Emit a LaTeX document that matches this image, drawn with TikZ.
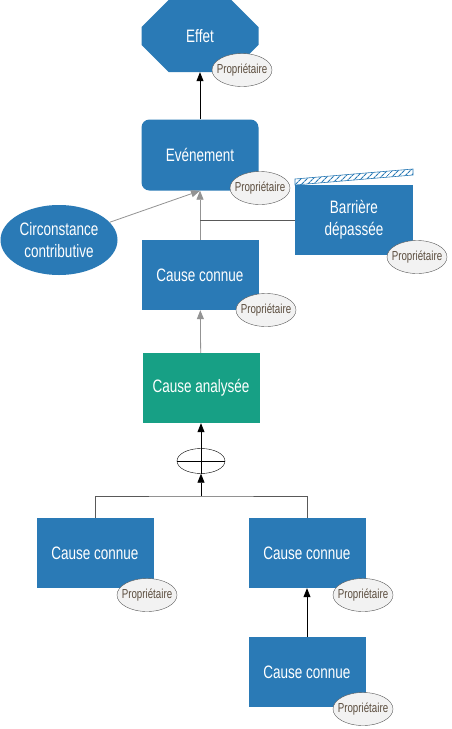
\documentclass[tikz,border=0pt]{standalone}
\usepackage{fontspec}
\setmainfont{Liberation Sans}[FakeStretch=0.75]
\usetikzlibrary{shapes.geometric,shapes.misc,arrows.meta,patterns.meta}
\definecolor{boxblue}{HTML}{2A7AB6}
\definecolor{boxteal}{HTML}{17A085}
\definecolor{propfill}{HTML}{F2F2F2}
\definecolor{proptext}{HTML}{5B4D3E}
\definecolor{linegray}{HTML}{595959}

\begin{document}
\begin{tikzpicture}[x=1pt,y=-1pt,
  box/.style={rectangle, fill=boxblue, minimum width=117pt, minimum height=70pt, text=white, align=center, font=\fontsize{18}{22}\selectfont},
  prop/.style={ellipse, draw=linegray, fill=propfill, minimum width=60pt, minimum height=33pt, inner sep=0pt, text=proptext, font=\fontsize{13}{13}\selectfont},
  link/.style={draw=linegray, line width=0.8pt},
  blacktip/.style={-{Triangle[width=7pt,length=9pt]}},
  graytip/.style={-{Triangle[width=7pt,length=9pt]}, draw=gray!85}]
\useasboundingbox[fill=white] (0,0) rectangle (451,729);
% top part
\node[box, chamfered rectangle, chamfered rectangle xsep=23pt, chamfered rectangle ysep=23pt, minimum height=72pt] (effet) at (200,36) {Effet};
\node[box, rounded corners=8pt, minimum height=71pt] (evt) at (200,155) {Evénement};
\node[box, minimum width=118pt] (bar) at (354,220) {Barrière\\dépassée};
\fill[pattern={Lines[angle=45,distance=4pt,line width=1.1pt]}, pattern color=boxblue] (295,179) -- (413,169) -- (413,175) -- (295,185) -- cycle;
\draw[boxblue, line width=0.6pt] (295,179) -- (413,169) -- (413,175) -- (295,185) -- cycle;
\node[box, ellipse, minimum width=117pt, minimum height=70pt, inner sep=0pt] (circ) at (59,240) {Circonstance\\contributive};
\node[box] (cc) at (200,275) {Cause connue};
\node[box, fill=boxteal] (ana) at (201,388) {Cause analysée};
% bottom part
\node[ellipse, draw=black, minimum width=48pt, minimum height=25pt, inner sep=0pt] (og) at (201,461) {};
\coordinate (junc) at (201,496);
\node[box] (cl) at (95,553) {Cause connue};
\node[box] (cr) at (307,553) {Cause connue};
\node[box] (cb) at (307,672) {Cause connue};
% connectors
\draw[link, blacktip, draw=black] (evt) -- (effet);
\draw[link, graytip] (cc) -- (evt.south);
\draw[link, graytip] (circ) -- (evt.south);
\draw[link] (bar.west) -- (bar.west -| evt.south);
\draw[link, graytip] (ana) -- (cc);
\draw[black, line width=0.7pt] (og.west) -- (og.east) (og.north) -- (og.south);
\draw[black, line width=0.8pt, blacktip] (og.north) -- (ana.south);
\draw[black, line width=0.8pt, blacktip] (junc) -- (og.south);
\draw[link] (cl.north) |- (junc) -| (cr.north);
\draw[link, blacktip, draw=black] (cb) -- (cr);
% owners
\node[prop] (p1) at (242,70) {\makebox[0pt]{Propriétaire}};
\node[prop] (p2) at (260,188) {\makebox[0pt]{Propriétaire}};
\node[prop] (p3) at (266,310) {\makebox[0pt]{Propriétaire}};
\node[prop] (p4) at (417,257) {\makebox[0pt]{Propriétaire}};
\node[prop] (p5) at (147,595) {\makebox[0pt]{Propriétaire}};
\node[prop] (p6) at (363,595) {\makebox[0pt]{Propriétaire}};
\node[prop] (p7) at (363,709) {\makebox[0pt]{Propriétaire}};
\end{tikzpicture}
\end{document}
